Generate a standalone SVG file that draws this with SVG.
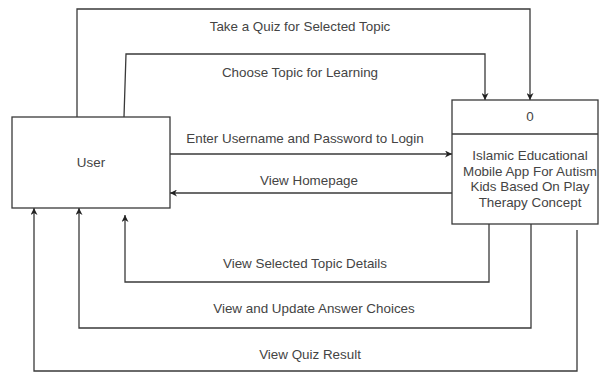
<svg xmlns="http://www.w3.org/2000/svg" width="599" height="372" viewBox="0 0 599 372">
<defs>
<marker id="arr" viewBox="0 0 10 10" refX="10" refY="5" markerWidth="7" markerHeight="7" markerUnits="userSpaceOnUse" orient="auto">
<path d="M0,0 L10,5 L0,10 L3,5 Z" fill="#222"/>
</marker>
</defs>
<style>
text{font-family:"Liberation Sans",Arial,sans-serif;font-size:13.4px;fill:#444;text-anchor:middle}
.box{fill:#fff;stroke:#3a3a3a;stroke-width:1.3}
.c{fill:none;stroke:#3a3a3a;stroke-width:1.3}
</style>
<rect width="599" height="372" fill="#fff"/>
<g id="connectors">
<path class="c" d="M77,117 V9 H530 V100" marker-end="url(#arr)"/>
<path class="c" d="M124,117 L126,54 H485 V100" marker-end="url(#arr)"/>
<path class="c" d="M170,154 H452" marker-end="url(#arr)"/>
<path class="c" d="M452,193 H170" marker-end="url(#arr)"/>
<path class="c" d="M489,224 V282 H125 V215" marker-end="url(#arr)"/>
<path class="c" d="M531,224 V328 H79 V208" marker-end="url(#arr)"/>
<path class="c" d="M577,230 V371 H34 V208" marker-end="url(#arr)"/>
<text x="300" y="31">Take a Quiz for Selected Topic</text>
<text x="300" y="77">Choose Topic for Learning</text>
<text x="305" y="143">Enter Username and Password to Login</text>
<text x="309" y="185">View Homepage</text>
<text x="305" y="268">View Selected Topic Details</text>
<text x="314" y="313">View and Update Answer Choices</text>
<text x="310" y="359">View Quiz Result</text>
</g>
<g id="user">
<rect class="box" x="12" y="117" width="158" height="91"/>
<text x="91" y="167">User</text>
</g>
<g id="process">
<rect class="box" x="452" y="100" width="146" height="124"/>
<line class="c" x1="452" y1="134" x2="598" y2="134"/>
<text x="530" y="121">0</text>
<text x="530" y="160">Islamic Educational</text>
<text x="530" y="176">Mobile App For Autism</text>
<text x="530" y="191">Kids Based On Play</text>
<text x="530" y="207">Therapy Concept</text>
</g>
</svg>
